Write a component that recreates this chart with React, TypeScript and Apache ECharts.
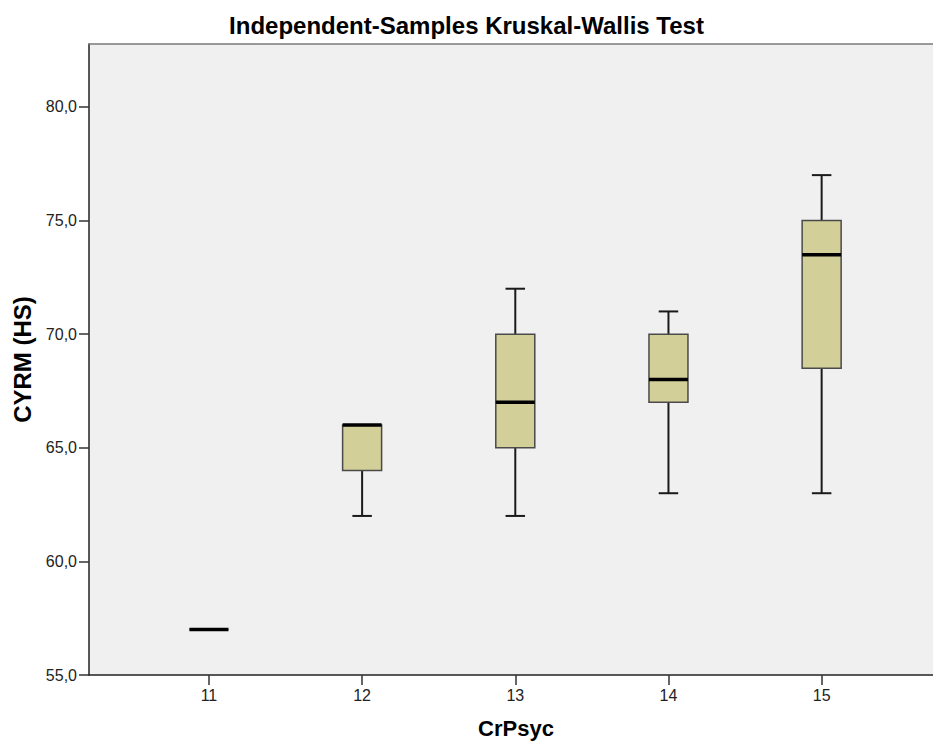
import React, { useEffect, useRef } from "react";
import * as echarts from "echarts";

// Data
const groups = [11, 12, 13, 14, 15];
const mins = [57, 62, 62, 63, 63];
const q1s = [57, 64, 65, 67, 68.5];
const medians = [57, 66, 67, 68, 73.5];
const q3s = [57, 66, 70, 70, 75];
const maxs = [57, 66, 72, 71, 77];
const yTicks = [55, 60, 65, 70, 75, 80];

const FONT = "'Liberation Sans', Arial, Helvetica, sans-serif";
const X_MIN = 10.217;
const X_MAX = 15.727;

export default function App() {
  const ref = useRef<HTMLDivElement>(null);

  useEffect(() => {
    if (!ref.current) return;
    const chart = echarts.init(ref.current, undefined, { renderer: "svg" });
    const data = groups.map((g, i) => [g, mins[i], q1s[i], medians[i], q3s[i], maxs[i]]);
    const BOX_W = 39;
    const CAP_W = 19.5;

    const option: any = {
      animation: false,
      backgroundColor: "#ffffff",
      title: {
        text: "Independent-Samples Kruskal-Wallis Test",
        left: "center",
        top: 8,
        textStyle: { fontFamily: FONT, fontSize: 24, fontWeight: "bold", color: "#000" },
      },
      grid: {
        left: 89,
        right: 0,
        top: 44,
        bottom: 69,
        show: true,
        backgroundColor: "#f0f0f0",
        borderWidth: 0,
      },
      xAxis: [
        {
          type: "value",
          min: X_MIN,
          max: X_MAX,
          name: "CrPsyc",
          nameLocation: "middle",
          nameGap: 42,
          nameTextStyle: {
            fontFamily: FONT,
            fontSize: 22,
            fontWeight: "bold",
            color: "#000",
            padding: [0, 0, 0, 10],
          },
          axisLine: { show: true, lineStyle: { color: "#222", width: 1.5 } },
          axisTick: { show: true, length: 10, lineStyle: { color: "#333", width: 1.5 }, customValues: groups },
          axisLabel: {
            show: true,
            customValues: groups,
            margin: 12,
            fontFamily: FONT,
            fontSize: 16,
            color: "#222",
            formatter: (v: number) => String(v),
          },
          splitLine: { show: false },
        },
        {
          type: "value",
          position: "top",
          min: X_MIN,
          max: X_MAX,
          axisLine: { show: true, lineStyle: { color: "#7a7a7a", width: 1.5 } },
          axisTick: { show: false },
          axisLabel: { show: false },
          splitLine: { show: false },
        },
      ],
      yAxis: {
        type: "value",
        min: 55,
        max: 82.77,
        name: "CYRM (HS)",
        nameLocation: "middle",
        nameGap: 55,
        nameTextStyle: { fontFamily: FONT, fontSize: 24, fontWeight: "bold", color: "#000" },
        axisLine: { show: true, lineStyle: { color: "#222", width: 1.5 } },
        axisTick: { show: true, length: 10, lineStyle: { color: "#333", width: 1.5 }, customValues: yTicks },
        axisLabel: {
          show: true,
          customValues: yTicks,
          margin: 12,
          fontFamily: FONT,
          fontSize: 16,
          color: "#222",
          formatter: (v: number) => v.toFixed(1).replace(".", ","),
        },
        splitLine: { show: false },
      },
      series: [
        {
          type: "custom",
          xAxisIndex: 0,
          data,
          encode: { x: 0, y: [1, 2, 3, 4, 5] },
          renderItem: (params: any, api: any) => {
            const x = api.value(0);
            const pMin = api.coord([x, api.value(1)]);
            const pQ1 = api.coord([x, api.value(2)]);
            const pMed = api.coord([x, api.value(3)]);
            const pQ3 = api.coord([x, api.value(4)]);
            const pMax = api.coord([x, api.value(5)]);
            const cx = pMed[0];
            const whiskerStyle = { stroke: "#1a1a1a", lineWidth: 2 };
            return {
              type: "group",
              children: [
                { type: "line", shape: { x1: cx, y1: pQ1[1], x2: cx, y2: pMin[1] }, style: whiskerStyle },
                { type: "line", shape: { x1: cx - CAP_W / 2, y1: pMin[1], x2: cx + CAP_W / 2, y2: pMin[1] }, style: whiskerStyle },
                { type: "line", shape: { x1: cx, y1: pQ3[1], x2: cx, y2: pMax[1] }, style: whiskerStyle },
                { type: "line", shape: { x1: cx - CAP_W / 2, y1: pMax[1], x2: cx + CAP_W / 2, y2: pMax[1] }, style: whiskerStyle },
                {
                  type: "rect",
                  shape: { x: cx - BOX_W / 2, y: pQ3[1], width: BOX_W, height: pQ1[1] - pQ3[1] },
                  style: { fill: "#d3cf98", stroke: "#4a4a4a", lineWidth: 1.5 },
                },
                {
                  type: "line",
                  shape: { x1: cx - BOX_W / 2, y1: pMed[1], x2: cx + BOX_W / 2, y2: pMed[1] },
                  style: { stroke: "#000", lineWidth: 3.5 },
                },
              ],
            };
          },
        },
      ],
    };

    chart.setOption(option);
    return () => chart.dispose();
  }, []);

  return (
    <div
      ref={ref}
      style={{ position: "fixed", left: 0, top: 0, width: 933, height: 744, background: "#fff" }}
    />
  );
}
